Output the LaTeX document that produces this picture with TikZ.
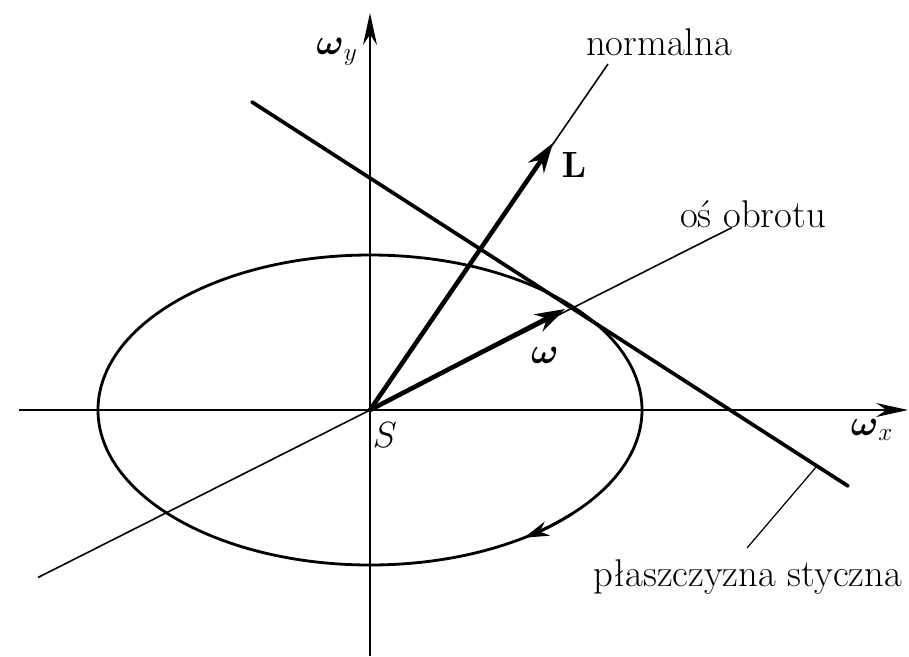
\documentclass[tikz,border=0pt]{standalone}
\usepackage{amsmath,amssymb}
\usetikzlibrary{arrows.meta,positioning,calc}
\tikzset{
  axisln/.style={-{Stealth[length=6.4mm,width=2.8mm]}, line width=1pt},
  thinln/.style={line width=0.9pt},
  leaderln/.style={line width=0.7pt},
  planeln/.style={line width=2.1pt, line cap=round},
  ellipseln/.style={line width=1.6pt},
  vecln/.style={-{Stealth[length=6mm,width=3.8mm]}, line width=2.6pt},
  lbl/.style={font=\fontsize{22}{26}\selectfont, inner sep=1pt},
}

\begin{document}
\begin{tikzpicture}
    \useasboundingbox (-7.4,-4.92) rectangle (10.78,8.2);
    \coordinate (S) at (0,0);
    \coordinate (xl) at (-7.02,0);
    \coordinate (xr) at (10.76,0);
    \coordinate (yb) at (0,-4.92);
    \coordinate (yt) at (0,7.94);
    \coordinate (P) at (4.074,2.054);
    % axes
    \draw[axisln] (xl) -- (xr);
    \draw[axisln] (yb) -- (yt);
    \node[lbl] (wx) at (10.04,-0.4) {$\boldsymbol{\omega}_x$};
    \node[lbl] (wy) at (-0.66,7.16) {$\boldsymbol{\omega}_y$};
    \node[lbl] (s) at (0.3,-0.5) {$S$};
    % ellipsoid section
    \draw[ellipseln] (S) ellipse [x radius=5.44, y radius=3.1];
    \draw[ellipseln, -{Stealth[length=5mm,width=3mm]}]
      ($(S)+(-42:5.44 and 3.1)$)
      arc[start angle=-42, end angle=-55.5, x radius=5.44, y radius=3.1];
    % axis of rotation
    \coordinate (ra1) at (-6.64,-3.35);
    \coordinate (ra2) at (7.24,3.65);
    \draw[thinln] (ra1) -- (ra2);
    \node[lbl] (axis) at (7.66,3.92) {oś obrotu};
    % normal
    \coordinate (nt) at (4.76,6.92);
    \draw[thinln] (S) -- (nt);
    \node[lbl] (normal) at (5.78,7.36) {normalna};
    % tangent plane
    \coordinate (pl1) at (-2.36,6.16);
    \coordinate (pl2) at (9.56,-1.52);
    \draw[planeln] (pl1) -- (pl2);
    \coordinate (ld1) at (8.94,-1.12);
    \node[lbl] (plane) at (7.56,-3.34) {płaszczyzna styczna};
    \coordinate (ld2) at (7.54,-2.76);
    \draw[leaderln] (ld1) -- (ld2);
    % vectors
    \coordinate (Lt) at (3.66,5.34);
    \coordinate (wt) at (3.9,2.02);
    \draw[vecln] (S) -- (Lt);
    \draw[vecln] (S) -- (wt);
    \node[lbl] (L) at (4.08,4.9) {$\mathbf{L}$};
    \node[lbl] (w) at (3.5,1.1) {$\boldsymbol{\omega}$};
\end{tikzpicture}
\end{document}
